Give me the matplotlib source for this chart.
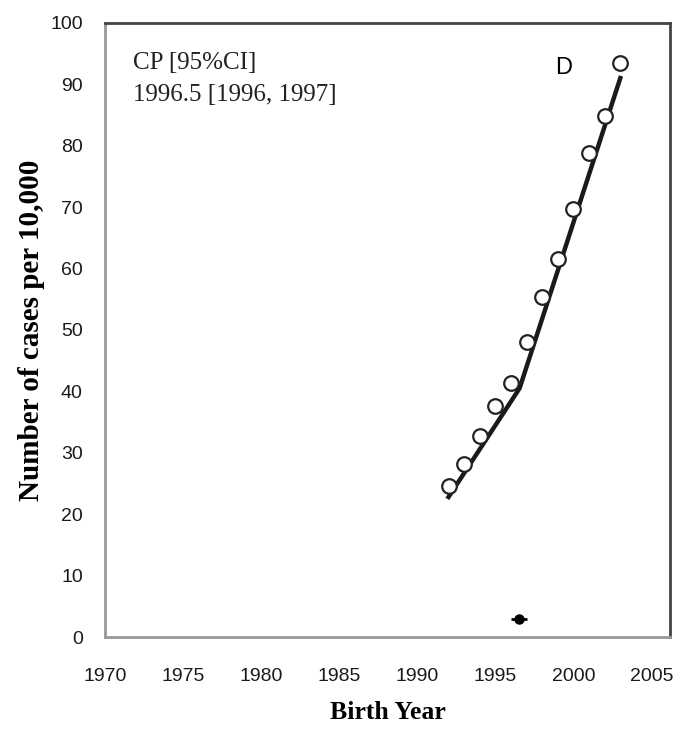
import matplotlib
matplotlib.use('Agg')
import matplotlib.pyplot as plt

# observed rates by birth year
years = [1992, 1993, 1994, 1995, 1996, 1997, 1998, 1999, 2000, 2001, 2002, 2003]
rates = [24.6, 28.2, 32.7, 37.6, 41.4, 48.0, 55.4, 61.6, 69.7, 78.8, 84.9, 93.5]

# joinpoint fit
fit_x = [1992, 1996.55, 2003]
fit_y = [22.8, 40.5, 91.0]

# change point and its CI
cp = 1996.5
cp_lo, cp_hi = 1996, 1997
cp_y = 3

xticks = [1970, 1975, 1980, 1985, 1990, 1995, 2000, 2005]
yticks = [0, 10, 20, 30, 40, 50, 60, 70, 80, 90, 100]

fig = plt.figure(figsize=(6.91, 7.36), dpi=100)
ax = fig.add_axes([0.152, 0.1345, 0.818, 0.8345])

ax.plot(fit_x, fit_y, '-', color='#1a1a1a', lw=3.2, zorder=2)
ax.plot(years, rates, 'o', mfc='white', mec='#222222', mew=1.6, ms=10.5, zorder=3)
ax.errorbar([cp], [cp_y], xerr=[[cp - cp_lo], [cp_hi - cp]], fmt='o',
            color='black', ms=6.5, lw=2, capsize=0)

ax.set_xlim(1970, 2006.2)
ax.set_ylim(0, 100)
ax.set_xticks(xticks)
ax.set_yticks(yticks)
ax.tick_params(length=0, labelsize=14, colors='#1a1a1a')
ax.tick_params(axis='x', pad=22)
ax.tick_params(axis='y', pad=16)
for lab in ax.get_xticklabels() + ax.get_yticklabels():
    lab.set_family('Liberation Sans')

for s in ['top', 'right']:
    ax.spines[s].set_color('#444444')
    ax.spines[s].set_linewidth(2)
for s in ['left', 'bottom']:
    ax.spines[s].set_color('#999999')
    ax.spines[s].set_linewidth(2)

ax.set_xlabel('Birth Year', family='Liberation Serif', weight='bold', fontsize=18.5, labelpad=12)
ax.set_ylabel('Number of cases per 10,000', family='Liberation Serif', weight='bold',
              fontsize=21, labelpad=4)

ax.text(0.05, 0.952, 'CP [95%CI]\n1996.5 [1996, 1997]', transform=ax.transAxes,
        family='Liberation Serif', fontsize=18, va='top', ha='left', linespacing=1.55,
        color='#222222')
ax.text(1999.4, 92.7, 'D', family='Liberation Sans', fontsize=17, ha='center', va='center')

fig.savefig('out.png', dpi=100)
